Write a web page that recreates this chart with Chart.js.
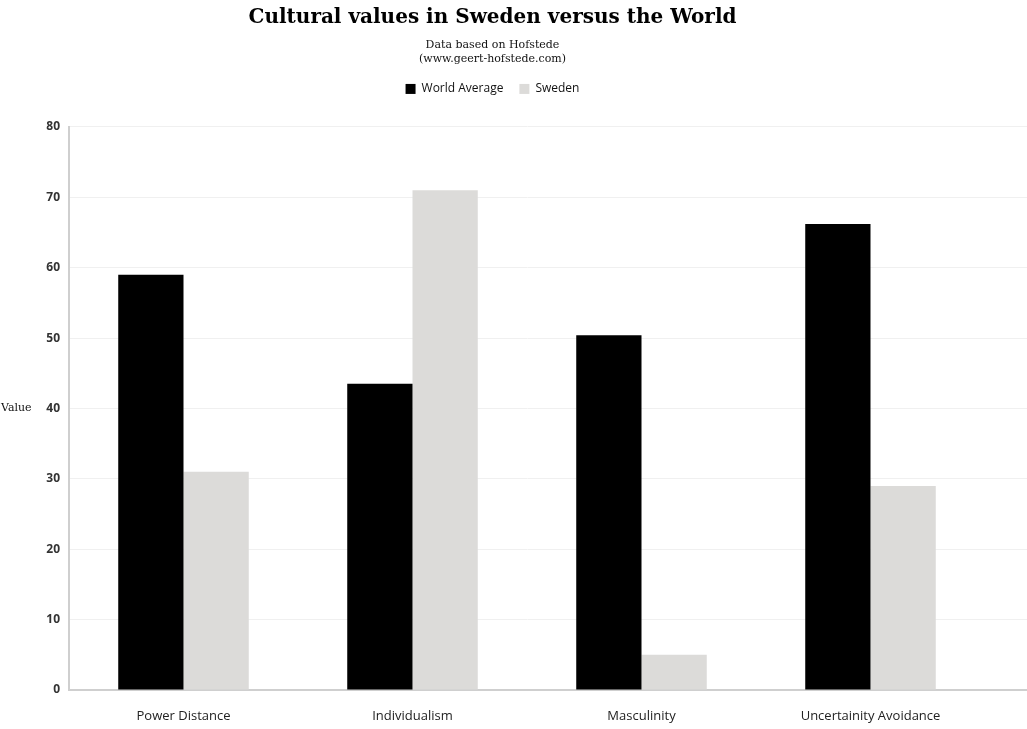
<!DOCTYPE html>
<html>
<head>
<meta charset="utf-8">
<script src="https://cdn.jsdelivr.net/npm/chart.js@4"></script>
<style>
  body { margin: 0; background: #fff; }
  #wrap { width: 1027px; height: 729px; }
</style>
</head>
<body>
<div id="wrap"><canvas id="cult"></canvas></div>
<script>
// categories and series
let dimensions = ['Power Distance', 'Individualism', 'Masculinity', 'Uncertainity Avoidance'];
let worldAvg = [59, 43.5, 50.4, 66.2];
let sweden = [31, 71, 5, 29];
let yTicks = [0, 10, 20, 30, 40, 50, 60, 70, 80];

// "Value" label sits horizontally left of the axis
const axisLabel = {
    id: 'axisLabel',
    afterDraw(chart){
        let ctx = chart.ctx;
        let y = chart.scales.y;
        ctx.save();
        ctx.font = '11px "DejaVu Serif"';
        ctx.fillStyle = '#111';
        ctx.textAlign = 'left';
        ctx.textBaseline = 'middle';
        ctx.fillText('Value', 1, (y.top + y.bottom) / 2);
        ctx.restore();
    }
};

// gridlines and baseline run on to the right edge
function align(px, w){
    return Math.round(px - w / 2) + w / 2;
}

const gridRun = {
    id: 'gridRun',
    beforeDatasetsDraw(chart){
        let ctx = chart.ctx;
        let y = chart.scales.y;
        let right = chart.chartArea.right;
        ctx.save();
        y.ticks.forEach(t => {
            let base = t.value === 0;
            let w = base ? 2 : 1;
            let py = align(base ? y.bottom : y.getPixelForValue(t.value), w);
            ctx.strokeStyle = base ? '#cfcfcf' : '#f0f0f0';
            ctx.lineWidth = w;
            ctx.beginPath();
            ctx.moveTo(right, py);
            ctx.lineTo(chart.width, py);
            ctx.stroke();
        });
        ctx.restore();
    }
};

// extra room under the legend
const legendGap = {
    id: 'legendGap',
    beforeInit(chart){
        const fit = chart.legend.fit;
        chart.legend.fit = function(){
            fit.bind(chart.legend)();
            this.height += 22;
        };
    }
};

var ctx = document.getElementById('cult').getContext('2d');
var myChart = new Chart(ctx, {
    type: 'bar',
    data: {
        labels: dimensions,
        datasets: [{
            label: 'World Average',
            data: worldAvg,
            backgroundColor: '#000000'
        }, {
            label: 'Sweden',
            data: sweden,
            backgroundColor: '#dcdbd9'
        }]
    },
    options: {
        responsive: true,
        maintainAspectRatio: false,
        animation: false,
        layout: { padding: { left: 0, right: 42, top: 0, bottom: 0 } },
        datasets: { bar: { categoryPercentage: 0.57, barPercentage: 1 } },
        plugins: {
            title: {
                display: true,
                text: 'Cultural values in Sweden versus the World',
                color: '#000',
                font: { family: '"DejaVu Serif"', size: 20, weight: 'bold' },
                padding: { top: 6, bottom: 8 }
            },
            subtitle: {
                display: true,
                text: ['Data based on Hofstede', '(www.geert-hofstede.com)'],
                color: '#111',
                font: { family: '"DejaVu Serif"', size: 11, lineHeight: 1.27 },
                padding: { bottom: 1 }
            },
            legend: {
                labels: {
                    boxWidth: 10,
                    boxHeight: 10,
                    color: '#111',
                    font: { family: '"Open Sans"', size: 12 },
                    padding: 16
                }
            },
            tooltip: { enabled: false }
        },
        scales: {
            x: {
                afterFit(scale){ scale.height = 39; },
                grid: { display: false, drawTicks: false },
                border: { color: '#cfcfcf', width: 2 },
                ticks: { color: '#222', font: { family: '"Open Sans"', size: 13 }, padding: 18 }
            },
            y: {
                min: 0,
                max: 80,
                afterFit(scale){ scale.width = 69; },
                afterBuildTicks(scale){ scale.ticks = yTicks.map(v => ({ value: v })); },
                grid: { color: '#f0f0f0', drawTicks: false },
                border: { color: '#cfcfcf', width: 2 },
                ticks: { color: '#333', font: { family: '"Open Sans"', size: 12, weight: 'bold' }, padding: 9 }
            }
        }
    },
    plugins: [axisLabel, gridRun, legendGap]
});
</script>
</body>
</html>
